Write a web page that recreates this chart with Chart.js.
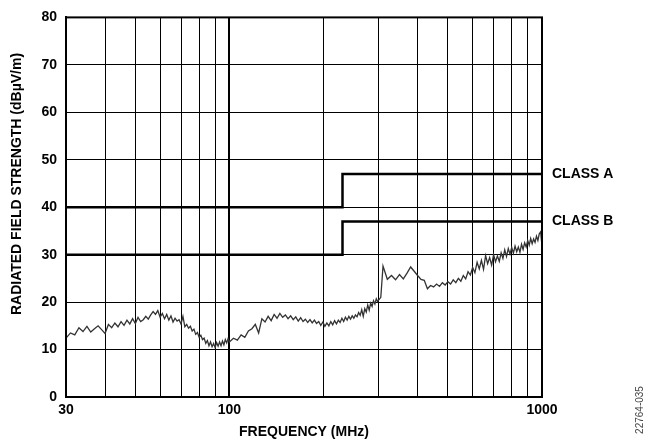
<!DOCTYPE html>
<html>
<head>
<meta charset="utf-8">
<script src="https://cdn.jsdelivr.net/npm/chart.js@4.4.0/dist/chart.umd.min.js"></script>
<style>
  html, body { margin: 0; padding: 0; background: #fff; }
  #wrap { width: 650px; height: 445px; }
</style>
</head>
<body>
<div id="wrap"><canvas id="emc" width="650" height="445"></canvas></div>
<script>
// measured radiated emission trace (MHz, dBuV/m)
const freqMHz = [
  30,31,32,33,34,35,36,37,38,39,
  40,41,42,43,44,45,46,47,48,49,
  50,51,52,53,54,55,56,57,58,59,
  60,61,62,63,64,65,66,67,68,69,
  70,71,72,73,74,75,76,77,78,79,
  80,81,82,83,84,85,86,87,88,89,
  90,91,92,93,94,95,96,97,98,99,
  100,
  103,106,109,112,115,118,121,124,127,130,
  133,136,139,142,145,148,151,154,157,160,
  163,166,169,172,175,178,181,184,187,190,
  193,196,199,202,205,208,211,214,217,220,
  223,226,229,232,235,238,241,244,247,250,
  253,256,259,262,265,268,271,274,277,280,
  283,286,289,292,295,298,
  300,305,310,320,330,340,350,360,370,380,390,
  400,410,420,430,440,450,460,470,480,490,
  500,510,520,530,540,550,560,570,580,590,
  600,610,620,630,640,650,660,670,680,690,
  700,710,720,730,740,750,760,770,780,790,
  800,810,820,830,840,850,860,870,880,890,
  900,910,920,930,940,950,960,970,980,990,
  1000
];
const fieldStrength = [
  12.4,13.5,13.1,14.6,13.8,14.9,13.7,14.4,15.0,14.2,
  13.4,15.3,14.6,15.6,14.8,15.9,15.1,16.2,15.4,16.5,
  15.5,16.8,15.9,16.3,17.0,16.4,17.3,18.0,17.4,18.2,
  16.8,17.6,16.5,17.4,16.2,17.1,15.8,16.6,16.0,16.3,
  15.4,17.0,14.8,15.3,14.5,14.9,13.9,14.3,13.2,13.6,
  12.6,13.0,12.1,12.4,11.3,11.9,10.8,11.6,10.6,11.3,
  10.4,11.5,10.7,11.6,10.8,11.8,11.0,12.1,11.4,12.3,
  11.6,
  12.4,12.0,13.1,12.6,13.9,14.4,15.3,13.5,16.5,15.8,
  17.0,16.1,17.4,16.6,17.6,16.8,17.3,16.5,17.1,16.3,
  16.9,16.0,16.7,15.9,16.4,15.7,16.3,15.6,16.2,15.5,
  15.9,15.1,15.8,14.9,15.6,15.0,15.9,15.2,16.1,15.4,
  16.2,15.7,16.6,15.9,16.8,16.2,17.0,16.4,17.1,16.6,
  17.3,16.9,17.8,17.2,18.4,17.0,18.6,17.9,19.4,18.3,
  19.8,19.1,20.3,19.6,20.7,20.1,
  20.4,21.0,27.6,24.8,25.6,24.7,25.8,24.9,26.1,27.4,26.5,
  25.6,24.8,24.6,22.8,23.5,23.2,23.8,23.3,24.1,23.6,
  24.3,23.8,24.7,24.1,25.0,24.4,25.6,24.9,26.4,25.7,
  27.3,26.2,28.4,27.0,28.8,26.9,29.8,28.1,29.4,27.8,
  30.0,28.5,29.7,28.6,30.4,29.2,31.0,29.6,31.3,30.1,
  31.5,30.3,31.8,30.6,31.6,30.5,32.2,31.1,32.5,31.6,
  33.0,32.0,33.4,32.3,33.3,32.6,33.9,33.0,34.4,34.8,
  31.8
];

// limit lines (step at 230 MHz)
const limitFreq = [30, 230, 230, 1000];
const classA = [40, 40, 47, 47];
const classB = [30, 30, 37, 37];

// axis ticks
const xGridTicks = [30, 40, 50, 60, 70, 80, 90, 100, 200, 300, 400, 500, 600, 700, 800, 900, 1000];
const xTickLabels = [30, 100, 1000];
const yMin = 0, yMax = 80, yStep = 10;

const FONT = '"Liberation Sans", Arial, sans-serif';

const toXY = (xs, ys) => xs.map((x, i) => ({ x: x, y: ys[i] }));

// frame + texts drawn on top
const decor = {
  id: 'decor',
  afterDraw(chart) {
    const c = chart.ctx;
    const a = chart.chartArea;
    const ys = chart.scales.y;
    c.save();
    c.strokeStyle = '#000';
    c.lineWidth = 2;
    c.strokeRect(a.left, a.top, a.right - a.left, a.bottom - a.top);

    c.fillStyle = '#000';
    c.font = 'bold 14px ' + FONT;
    c.textBaseline = 'middle';
    c.textAlign = 'left';
    c.fillText('CLASS A', a.right + 10, ys.getPixelForValue(47));
    c.fillText('CLASS B', a.right + 10, ys.getPixelForValue(37));

    c.textAlign = 'center';
    c.fillText('FREQUENCY (MHz)', (a.left + a.right) / 2, 432);

    c.save();
    c.translate(17, 184);
    c.rotate(-Math.PI / 2);
    c.fillText('RADIATED FIELD STRENGTH (dB\u00b5V/m)', 0, 0);
    c.restore();

    c.save();
    c.fillStyle = '#444';
    c.font = '10px ' + FONT;
    c.translate(640, 410);
    c.rotate(-Math.PI / 2);
    c.fillText('22764-035', 0, 0);
    c.restore();
    c.restore();
  }
};

new Chart(document.getElementById('emc'), {
  type: 'line',
  data: {
    datasets: [
      {
        label: 'CLASS A',
        data: toXY(limitFreq, classA),
        borderColor: '#000',
        borderWidth: 2.5,
        pointRadius: 0,
        tension: 0
      },
      {
        label: 'CLASS B',
        data: toXY(limitFreq, classB),
        borderColor: '#000',
        borderWidth: 2.5,
        pointRadius: 0,
        tension: 0
      },
      {
        label: 'Emissions',
        data: toXY(freqMHz, fieldStrength),
        borderColor: '#333',
        borderWidth: 1.3,
        pointRadius: 0,
        tension: 0
      }
    ]
  },
  options: {
    responsive: false,
    animation: false,
    devicePixelRatio: 1,
    layout: { padding: { left: 0, right: 108, top: 16, bottom: 0 } },
    plugins: {
      legend: { display: false },
      tooltip: { enabled: false }
    },
    scales: {
      x: {
        type: 'logarithmic',
        min: 30,
        max: 1000,
        afterBuildTicks: (scale) => { scale.ticks = xGridTicks.map(v => ({ value: v })); },
        afterFit: (scale) => { scale.height = 48; },
        ticks: {
          autoSkip: false,
          maxRotation: 0,
          padding: 5,
          color: '#000',
          font: { family: FONT, size: 14, weight: 'bold' },
          callback: (v) => xTickLabels.includes(v) ? String(v) : ''
        },
        grid: {
          color: '#000',
          lineWidth: (ctx) => (ctx.tick && ctx.tick.value === 100) ? 2 : 1,
          drawTicks: false
        },
        border: { display: true, color: '#000', width: 2 }
      },
      y: {
        min: yMin,
        max: yMax,
        afterFit: (scale) => { scale.width = 66; },
        ticks: {
          stepSize: yStep,
          padding: 9,
          color: '#000',
          font: { family: FONT, size: 14, weight: 'bold' }
        },
        grid: { color: '#000', lineWidth: 1, drawTicks: false },
        border: { display: true, color: '#000', width: 2 }
      }
    }
  },
  plugins: [decor]
});
</script>
</body>
</html>
